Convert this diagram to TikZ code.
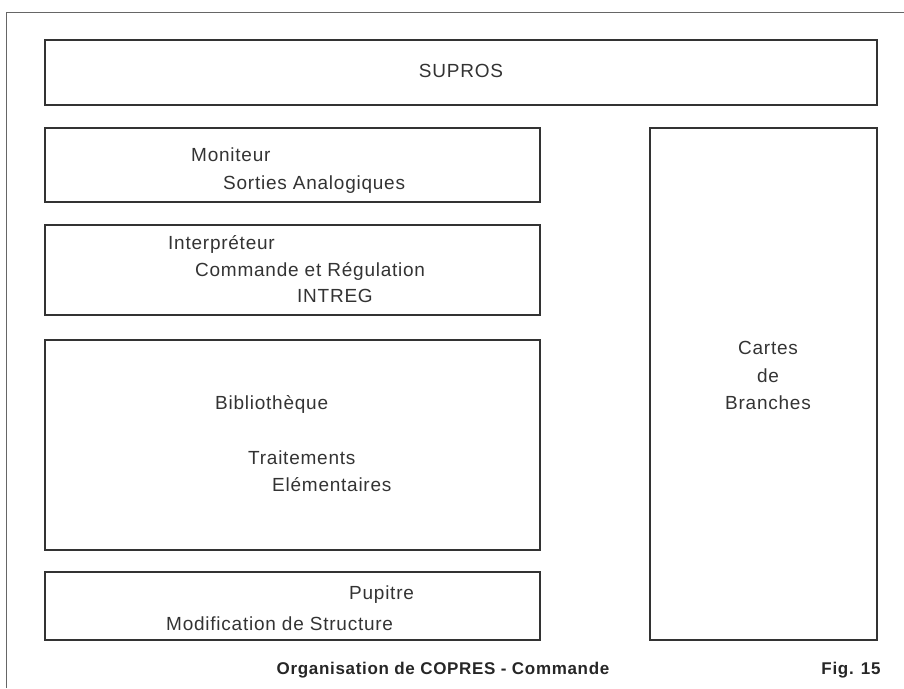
\documentclass[tikz,border=0pt]{standalone}
\usepackage{fontspec}
\setmainfont{Liberation Sans}
\newfontfamily\lblfont[LetterSpace=4,WordSpace=1.6]{Liberation Sans}
\newfontfamily\captfont[LetterSpace=4]{Liberation Sans}
\begin{document}
\begin{tikzpicture}[x=1pt,y=-1pt,
  blk/.style={draw=black!80,line width=1.6pt,minimum width=#1,inner sep=0pt},
  lbl/.style={anchor=base west,inner sep=0pt,font=\lblfont\fontsize{19}{22}\selectfont,text=black!80},
  capt/.style={anchor=base,inner sep=0pt,font=\captfont\fontsize{17}{20}\selectfont\bfseries,text=black!85}]
\useasboundingbox (0,0) rectangle (904,688);
% open frame: top and left edges
\coordinate (fl) at (6,688);
\coordinate (fc) at (6,12);
\coordinate (fr) at (904,12);
\draw[black!60,line width=1pt] (fl) -- (fc) -- (fr);
% blocks
\node[blk=832pt,minimum height=65pt] (supros) at (461,72.5) {};
\node[blk=495pt,minimum height=74pt] (mon) at (292.5,165) {};
\node[blk=495pt,minimum height=90pt] (interp) at (292.5,270) {};
\node[blk=495pt,minimum height=210pt] (bib) at (292.5,445) {};
\node[blk=495pt,minimum height=68pt] (pup) at (292.5,606) {};
\node[blk=227pt,minimum height=512pt] (cartes) at (763.5,384) {};
% texts
\node[lbl,anchor=base] (tsup) at (461,77) {SUPROS};
\node[lbl] (tmon1) at (191,161) {Moniteur};
\node[lbl] (tmon2) at (223,189) {Sorties Analogiques};
\node[lbl] (tint1) at (168,249) {Interpréteur};
\node[lbl] (tint2) at (195,276) {Commande et Régulation};
\node[lbl] (tint3) at (297,302) {INTREG};
\node[lbl] (tbib1) at (215,409) {Bibliothèque};
\node[lbl] (tbib2) at (248,464) {Traitements};
\node[lbl] (tbib3) at (272,491) {Elémentaires};
\node[lbl] (tpup1) at (349,599) {Pupitre};
\node[lbl] (tpup2) at (166,630) {Modification de Structure};
\node[lbl,anchor=base] (tcar1) at (768,354) {Cartes};
\node[lbl,anchor=base] (tcar2) at (768,382) {de};
\node[lbl,anchor=base] (tcar3) at (768,409) {Branches};
\node[capt] (caption) at (443,674) {Organisation de COPRES - Commande};
\node[capt] (fig) at (851,674) {Fig. 15};
\end{tikzpicture}
\end{document}
